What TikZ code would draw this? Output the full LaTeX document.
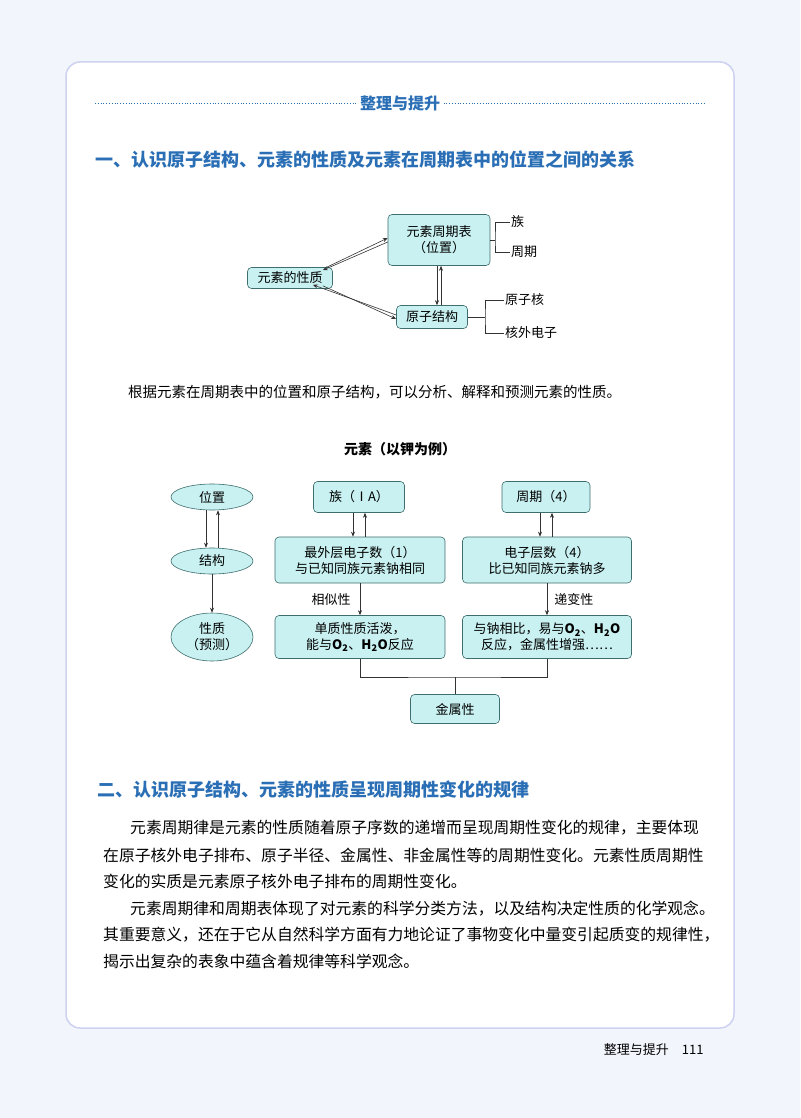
\documentclass[tikz,border=0pt]{standalone}
\usepackage{fontspec}
\setmainfont{Noto Sans CJK SC}
\newfontfamily\cjk{Noto Sans CJK SC}
\usetikzlibrary{arrows.meta,shapes.geometric}
\definecolor{hblue}{HTML}{2A6FB5}
\definecolor{bfill}{HTML}{C9F1F1}
\definecolor{bdraw}{HTML}{3E6E6E}
\definecolor{pagebg}{HTML}{F2F5FB}
\definecolor{panelbd}{HTML}{CDD2F0}
\tikzset{
 bx/.style={draw=bdraw,fill=bfill,rounded corners=4pt,line width=0.6pt,font=\fontsize{13}{16}\selectfont,align=center,inner sep=2pt},
 el/.style={ellipse,draw=bdraw,fill=bfill,line width=0.6pt,font=\fontsize{13}{16}\selectfont,align=center,inner sep=1pt},
 ar/.style={-{Stealth[length=5pt,width=4pt]},line width=0.6pt,draw=black!80},
 ln/.style={line width=0.6pt,draw=black!80},
 lb/.style={font=\fontsize{13}{16}\selectfont,inner sep=1pt},
 para/.style={anchor=west,font=\fontsize{15.8}{18}\selectfont,inner sep=0pt},
 head/.style={anchor=west,font=\fontsize{18}{20}\selectfont\bfseries,text=hblue,inner sep=0pt}
}
\begin{document}
\begin{tikzpicture}[x=1pt,y=-1pt]
\useasboundingbox (0,0) rectangle (800,1118);
\fill[pagebg] (0,0) rectangle (800,1118);
\draw[draw=panelbd,line width=1.5pt,fill=white,rounded corners=14pt] (66,62) rectangle (734,1028);
% title
\node[font=\fontsize{16}{18}\selectfont\bfseries,text=hblue] (ttl) at (400,103) {整理与提升};
\draw[hblue,dotted,line width=0.8pt] (95,103) -- (ttl.west);
\draw[hblue,dotted,line width=0.8pt] (ttl.east) -- (705,103);
\node[head] (h1) at (95,160) {一、认识原子结构、元素的性质及元素在周期表中的位置之间的关系};
% diagram 1
\node[bx,minimum width=102pt,minimum height=51pt] (zq) at (439,240) {元素周期表\\（位置）};
\node[bx,minimum width=85pt,minimum height=21pt] (xz) at (290,278) {元素的性质};
\node[bx,minimum width=71pt,minimum height=23pt] (yz) at (432,317) {原子结构};
\draw[ar] ([yshift=-2pt]zq.west) -- ([xshift=-10pt,yshift=-3pt]xz.north east);
\draw[ar] ([xshift=-6pt]xz.north east) -- ([yshift=2pt]zq.west);
\draw[ar] ([xshift=-10pt,yshift=3pt]xz.south east) -- ([yshift=-2pt]yz.west);
\draw[ar] ([yshift=2pt]yz.west) -- ([xshift=-20pt,yshift=4pt]xz.south east);
\draw[ar] ([xshift=-2pt]zq.south) -- ([xshift=-2pt]yz.north -| zq.south);
\draw[ar] ([xshift=2pt]yz.north -| zq.south) -- ([xshift=2pt]zq.south);
\coordinate (b1) at (495,240);
\node[lb,anchor=west] (zu) at (510,222) {族};
\node[lb,anchor=west] (zqi) at (510,252) {周期};
\draw[ln] (zq.east) -- (b1);
\draw[ln] (zu.west) -| (b1) |- (zqi.west);
\coordinate (b2) at (485,317);
\node[lb,anchor=west] (yzh) at (504,300) {原子核};
\node[lb,anchor=west] (hw) at (504,333) {核外电子};
\draw[ln] (yz.east) -- (b2);
\draw[ln] (yzh.west) -| (b2) |- (hw.west);
\node[para,font=\fontsize{14.5}{18}\selectfont] (s1) at (128,392) {根据元素在周期表中的位置和原子结构，可以分析、解释和预测元素的性质。};
% diagram 2
\node[font=\fontsize{14}{16}\selectfont\bfseries] (t2) at (400,449) {元素（以钾为例）};
\node[el,minimum width=82pt,minimum height=26pt] (wz) at (212,497) {位置};
\node[el,minimum width=82pt,minimum height=26pt] (jg) at (212,561) {结构};
\node[el,minimum width=82pt,minimum height=48pt] (xzz) at (212,637) {性质\\（预测）};
\node[bx,minimum width=91pt,minimum height=31pt] (zu2) at (359,497) {族（ⅠA）};
\node[bx,minimum width=88pt,minimum height=31pt] (zq2) at (546,497) {周期（4）};
\node[bx,minimum width=170pt,minimum height=46pt] (zw) at (360,560) {最外层电子数（1）\\与已知同族元素钠相同};
\node[bx,minimum width=169pt,minimum height=46pt] (dz) at (547,560) {电子层数（4）\\比已知同族元素钠多};
\node[bx,minimum width=170pt,minimum height=43pt] (dzx) at (360,637) {单质性质活泼，\\能与\textbf{O\textsubscript{2}}、\textbf{H\textsubscript{2}O}反应};
\node[bx,minimum width=169pt,minimum height=43pt] (yn) at (547,637) {与钠相比，易与\textbf{O\textsubscript{2}}、\textbf{H\textsubscript{2}O}\\反应，金属性增强……};
\node[bx,minimum width=89pt,minimum height=29pt] (js) at (455,709) {金属性};
\draw[ar] ([xshift=-6pt]wz.south) -- ([xshift=-6pt]jg.north);
\draw[ar] ([xshift=6pt]jg.north) -- ([xshift=6pt]wz.south);
\draw[ar] (jg.south) -- (xzz.north);
\draw[ar] ([xshift=-6pt]zu2.south) -- ([xshift=-6pt]zu2.south |- zw.north);
\draw[ar] ([xshift=6pt]zu2.south |- zw.north) -- ([xshift=6pt]zu2.south);
\draw[ar] ([xshift=-6pt]zq2.south) -- ([xshift=-6pt]zq2.south |- dz.north);
\draw[ar] ([xshift=6pt]zq2.south |- dz.north) -- ([xshift=6pt]zq2.south);
\draw[ar] (zw.south) -- (dzx.north) node[lb,midway,left=8pt] {相似性};
\draw[ar] (dz.south) -- (yn.north) node[lb,midway,right=6pt] {递变性};
\coordinate (jn) at (455,677);
\draw[ln] (dzx.south) |- (jn) -| (yn.south);
\draw[ln] (jn) -- (js.north);
% section 2
\node[head] (h2) at (97,790) {二、认识原子结构、元素的性质呈现周期性变化的规律};
\node[para] (p1) at (130,828) {元素周期律是元素的性质随着原子序数的递增而呈现周期性变化的规律，主要体现};
\node[para] (p2) at (103,855) {在原子核外电子排布、原子半径、金属性、非金属性等的周期性变化。元素性质周期性};
\node[para] (p3) at (103,881) {变化的实质是元素原子核外电子排布的周期性变化。};
\node[para] (p4) at (130,909) {元素周期律和周期表体现了对元素的科学分类方法，以及结构决定性质的化学观念。};
\node[para] (p5) at (103,935) {其重要意义，还在于它从自然科学方面有力地论证了事物变化中量变引起质变的规律性，};
\node[para] (p6) at (103,961) {揭示出复杂的表象中蕴含着规律等科学观念。};
\node[font=\fontsize{13}{15}\selectfont,anchor=east] (ft) at (707,1050) {整理与提升\quad 111};
\end{tikzpicture}
\end{document}
